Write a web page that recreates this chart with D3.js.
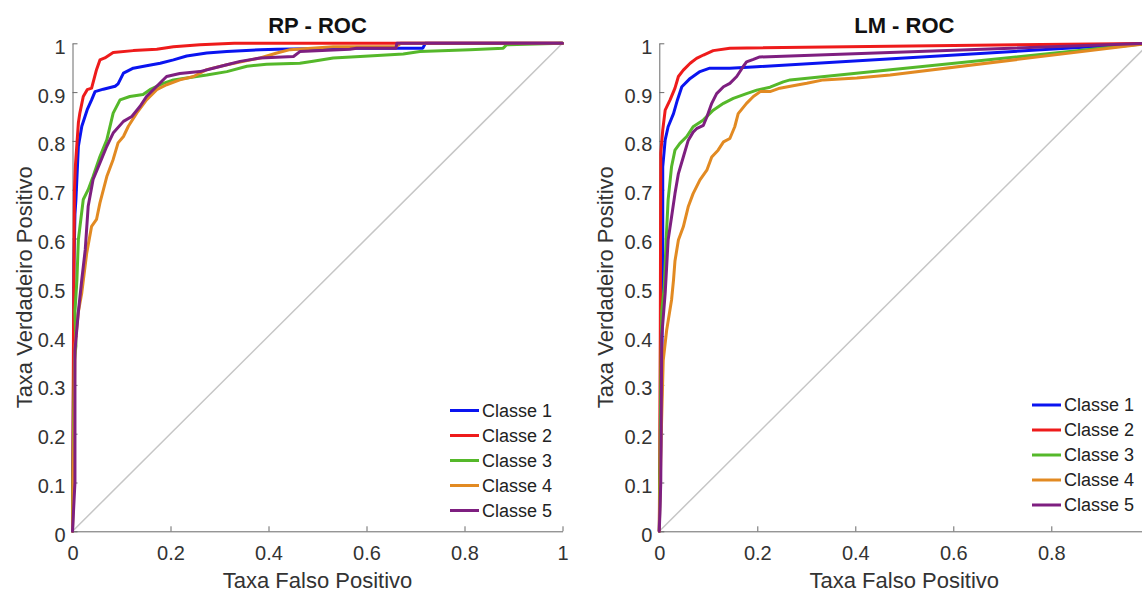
<!DOCTYPE html>
<html>
<head>
<meta charset="utf-8">
<script src="https://cdn.jsdelivr.net/npm/d3@7"></script>
<style>
  html, body { margin: 0; padding: 0; background: #fff; overflow: hidden; }
  svg { display: block; font-family: "Liberation Sans", Arial, Helvetica, sans-serif; }
</style>
</head>
<body>
<svg id="chart" width="1142" height="593"></svg>
<script>
// ---- data: ROC curves as [taxa falso positivo, taxa verdadeiro positivo] ----
const classNames = ["Classe 1", "Classe 2", "Classe 3", "Classe 4", "Classe 5"];
const xTicks = [0, 0.2, 0.4, 0.6, 0.8, 1];
const yTicks = [0, 0.1, 0.2, 0.3, 0.4, 0.5, 0.6, 0.7, 0.8, 0.9, 1];

const rpClasse1 = [[0,0],[0.002,0.3],[0.003,0.55],[0.005,0.65],[0.007,0.68],[0.012,0.789],[0.019,0.83],[0.03,0.864],[0.039,0.884],[0.046,0.901],[0.063,0.906],[0.087,0.912],[0.093,0.917],[0.104,0.939],[0.124,0.949],[0.151,0.954],[0.179,0.959],[0.206,0.966],[0.233,0.974],[0.274,0.98],[0.315,0.983],[0.383,0.987],[0.417,0.988],[0.55,0.99],[0.715,0.99],[0.72,1],[1,1]];
const rpClasse2 = [[0,0],[0.002,0.4],[0.004,0.7],[0.006,0.75],[0.012,0.837],[0.015,0.857],[0.022,0.891],[0.03,0.905],[0.039,0.908],[0.049,0.946],[0.056,0.966],[0.066,0.97],[0.083,0.981],[0.124,0.985],[0.172,0.988],[0.206,0.993],[0.26,0.997],[0.33,1],[1,1]];
const rpClasse3 = [[0,0],[0.002,0.2],[0.004,0.35],[0.007,0.38],[0.005,0.45],[0.009,0.515],[0.012,0.598],[0.022,0.68],[0.032,0.70],[0.042,0.727],[0.056,0.768],[0.07,0.802],[0.083,0.857],[0.097,0.884],[0.117,0.891],[0.144,0.895],[0.158,0.905],[0.185,0.918],[0.206,0.925],[0.233,0.929],[0.274,0.935],[0.315,0.942],[0.356,0.953],[0.396,0.957],[0.464,0.959],[0.491,0.963],[0.532,0.97],[0.587,0.973],[0.675,0.978],[0.709,0.983],[0.811,0.987],[0.879,0.99],[0.886,0.997],[1,1]];
const rpClasse4 = [[0,0],[0.003,0.2],[0.005,0.38],[0.012,0.45],[0.019,0.489],[0.029,0.57],[0.039,0.625],[0.049,0.639],[0.056,0.673],[0.07,0.727],[0.083,0.762],[0.093,0.796],[0.104,0.809],[0.114,0.83],[0.131,0.857],[0.151,0.884],[0.172,0.905],[0.192,0.915],[0.219,0.925],[0.247,0.932],[0.274,0.946],[0.315,0.956],[0.349,0.963],[0.383,0.97],[0.417,0.98],[0.444,0.987],[0.532,0.993],[0.66,0.993],[0.67,1],[1,1]];
const rpClasse5 = [[0,0],[0.005,0.1],[0.005,0.37],[0.012,0.45],[0.019,0.516],[0.026,0.577],[0.032,0.666],[0.042,0.721],[0.056,0.755],[0.07,0.789],[0.083,0.816],[0.104,0.84],[0.121,0.85],[0.138,0.871],[0.151,0.891],[0.172,0.912],[0.192,0.932],[0.219,0.938],[0.26,0.942],[0.287,0.949],[0.315,0.956],[0.342,0.963],[0.383,0.97],[0.451,0.973],[0.464,0.983],[0.566,0.988],[0.58,0.99],[0.66,0.99],[0.662,1],[1,1]];

const lmClasse1 = [[0,0],[0.005,0.3],[0.007,0.6],[0.007,0.747],[0.012,0.802],[0.018,0.829],[0.029,0.856],[0.037,0.884],[0.046,0.911],[0.063,0.928],[0.083,0.942],[0.103,0.949],[0.144,0.949],[0.199,0.952],[1,1]];
const lmClasse2 = [[0,0],[0.002,0.4],[0.003,0.775],[0.007,0.822],[0.012,0.863],[0.022,0.884],[0.032,0.908],[0.039,0.932],[0.049,0.945],[0.063,0.959],[0.076,0.969],[0.09,0.976],[0.11,0.985],[0.144,0.99],[1,1]];
const lmClasse3 = [[0,0],[0.003,0.3],[0.005,0.45],[0.01,0.5],[0.014,0.597],[0.018,0.679],[0.025,0.747],[0.032,0.781],[0.042,0.795],[0.056,0.809],[0.069,0.829],[0.09,0.843],[0.11,0.863],[0.131,0.877],[0.151,0.887],[0.178,0.897],[0.199,0.904],[0.226,0.91],[0.253,0.921],[0.267,0.925],[1,1]];
const lmClasse4 = [[0,0],[0.004,0.2],[0.008,0.35],[0.015,0.412],[0.025,0.474],[0.029,0.515],[0.032,0.554],[0.039,0.597],[0.049,0.624],[0.059,0.665],[0.069,0.692],[0.083,0.72],[0.097,0.74],[0.107,0.767],[0.12,0.781],[0.131,0.798],[0.144,0.805],[0.154,0.829],[0.161,0.856],[0.178,0.877],[0.192,0.891],[0.206,0.901],[0.226,0.901],[0.246,0.908],[0.273,0.913],[0.301,0.918],[0.335,0.925],[0.403,0.929],[0.471,0.935],[1,1]];
const lmClasse5 = [[0,0],[0.003,0.1],[0.005,0.4],[0.012,0.488],[0.018,0.597],[0.025,0.644],[0.032,0.692],[0.039,0.733],[0.049,0.767],[0.059,0.801],[0.069,0.818],[0.076,0.825],[0.09,0.832],[0.097,0.849],[0.107,0.877],[0.117,0.897],[0.131,0.911],[0.144,0.918],[0.158,0.932],[0.171,0.952],[0.178,0.962],[0.192,0.967],[0.205,0.972],[0.267,0.974],[1,1]];

const chanceLine = [[0,0],[1,1]];

// ---- styling ----
const classColors = ["#0a14f0", "#ee1b1b", "#55b82a", "#e28a22", "#7e1f80"];

const panels = [
  { title: "RP - ROC", left: 72.5, series: [rpClasse1, rpClasse2, rpClasse3, rpClasse4, rpClasse5],
    legendX: 450, legendY: 410.5, yLabelGap: 41 },
  { title: "LM - ROC", left: 659.3, series: [lmClasse1, lmClasse2, lmClasse3, lmClasse4, lmClasse5],
    legendX: 1032, legendY: 405, yLabelGap: 46 }
];

const width = 1142;
const plotSize = 490;
const plotTop = 43.3, plotBottom = 531.3;
const svg = d3.select("#chart");

panels.forEach(p => {
  const x = d3.scaleLinear().domain([0, 1]).range([p.left, p.left + plotSize]);
  const y = d3.scaleLinear().domain([0, 1]).range([plotBottom, plotTop]);
  const g = svg.append("g");

  // reference diagonal
  g.append("path")
    .datum(chanceLine)
    .attr("d", d3.line().x(d => x(d[0])).y(d => y(d[1])))
    .attr("fill", "none")
    .attr("stroke", "#c6c6c6")
    .attr("stroke-width", 1.5);

  // axes (left and bottom only, ticks pointing inward); ticks past the page edge are skipped
  const visibleXTicks = xTicks.filter(t => x(t) <= width - 4);
  const xAxis = g.append("g")
    .attr("transform", `translate(0,${plotBottom})`)
    .call(d3.axisBottom(x).tickValues(visibleXTicks).tickFormat(d => String(d))
      .tickSizeInner(-5).tickSizeOuter(0).tickPadding(15));
  const yAxis = g.append("g")
    .attr("transform", `translate(${p.left},0)`)
    .call(d3.axisLeft(y).tickValues(yTicks).tickFormat(d => String(d))
      .tickSizeInner(-5).tickSizeOuter(0).tickPadding(7));

  [xAxis, yAxis].forEach(a => {
    a.select(".domain").attr("stroke", "#6a6a6a").attr("stroke-width", 1);
    a.selectAll(".tick line").attr("stroke", "#6a6a6a").attr("stroke-width", 1);
    a.selectAll(".tick text").attr("fill", "#333").attr("font-size", 20)
      .attr("font-family", "Liberation Sans, Arial, sans-serif");
  });
  yAxis.selectAll(".tick text").attr("dy", "0.5em");

  // ROC curves
  const line = d3.line().x(d => x(d[0])).y(d => y(d[1]));
  p.series.forEach((s, i) => {
    g.append("path")
      .datum(s)
      .attr("d", line)
      .attr("fill", "none")
      .attr("stroke", classColors[i])
      .attr("stroke-width", 3)
      .attr("stroke-linejoin", "round")
      .attr("stroke-linecap", "round");
  });

  // title
  g.append("text")
    .attr("x", p.left + plotSize / 2)
    .attr("y", 33.3)
    .attr("text-anchor", "middle")
    .attr("font-size", 22)
    .attr("font-weight", "bold")
    .attr("fill", "#111")
    .text(p.title);

  // axis labels
  g.append("text")
    .attr("x", p.left + plotSize / 2)
    .attr("y", 588.3)
    .attr("text-anchor", "middle")
    .attr("font-size", 22)
    .attr("fill", "#333")
    .text("Taxa Falso Positivo");
  g.append("text")
    .attr("transform", `translate(${p.left - p.yLabelGap},${(plotTop + plotBottom) / 2}) rotate(-90)`)
    .attr("text-anchor", "middle")
    .attr("font-size", 22)
    .attr("fill", "#333")
    .text("Taxa Verdadeiro Positivo");

  // legend
  const lg = g.append("g");
  classNames.forEach((name, i) => {
    const cy = p.legendY + i * 25;
    lg.append("line")
      .attr("x1", p.legendX).attr("x2", p.legendX + 29)
      .attr("y1", cy).attr("y2", cy)
      .attr("stroke", classColors[i]).attr("stroke-width", 3);
    lg.append("text")
      .attr("x", p.legendX + 32)
      .attr("y", cy)
      .attr("dy", "0.35em")
      .attr("font-size", 18)
      .attr("fill", "#222")
      .text(name);
  });
});
</script>
</body>
</html>
